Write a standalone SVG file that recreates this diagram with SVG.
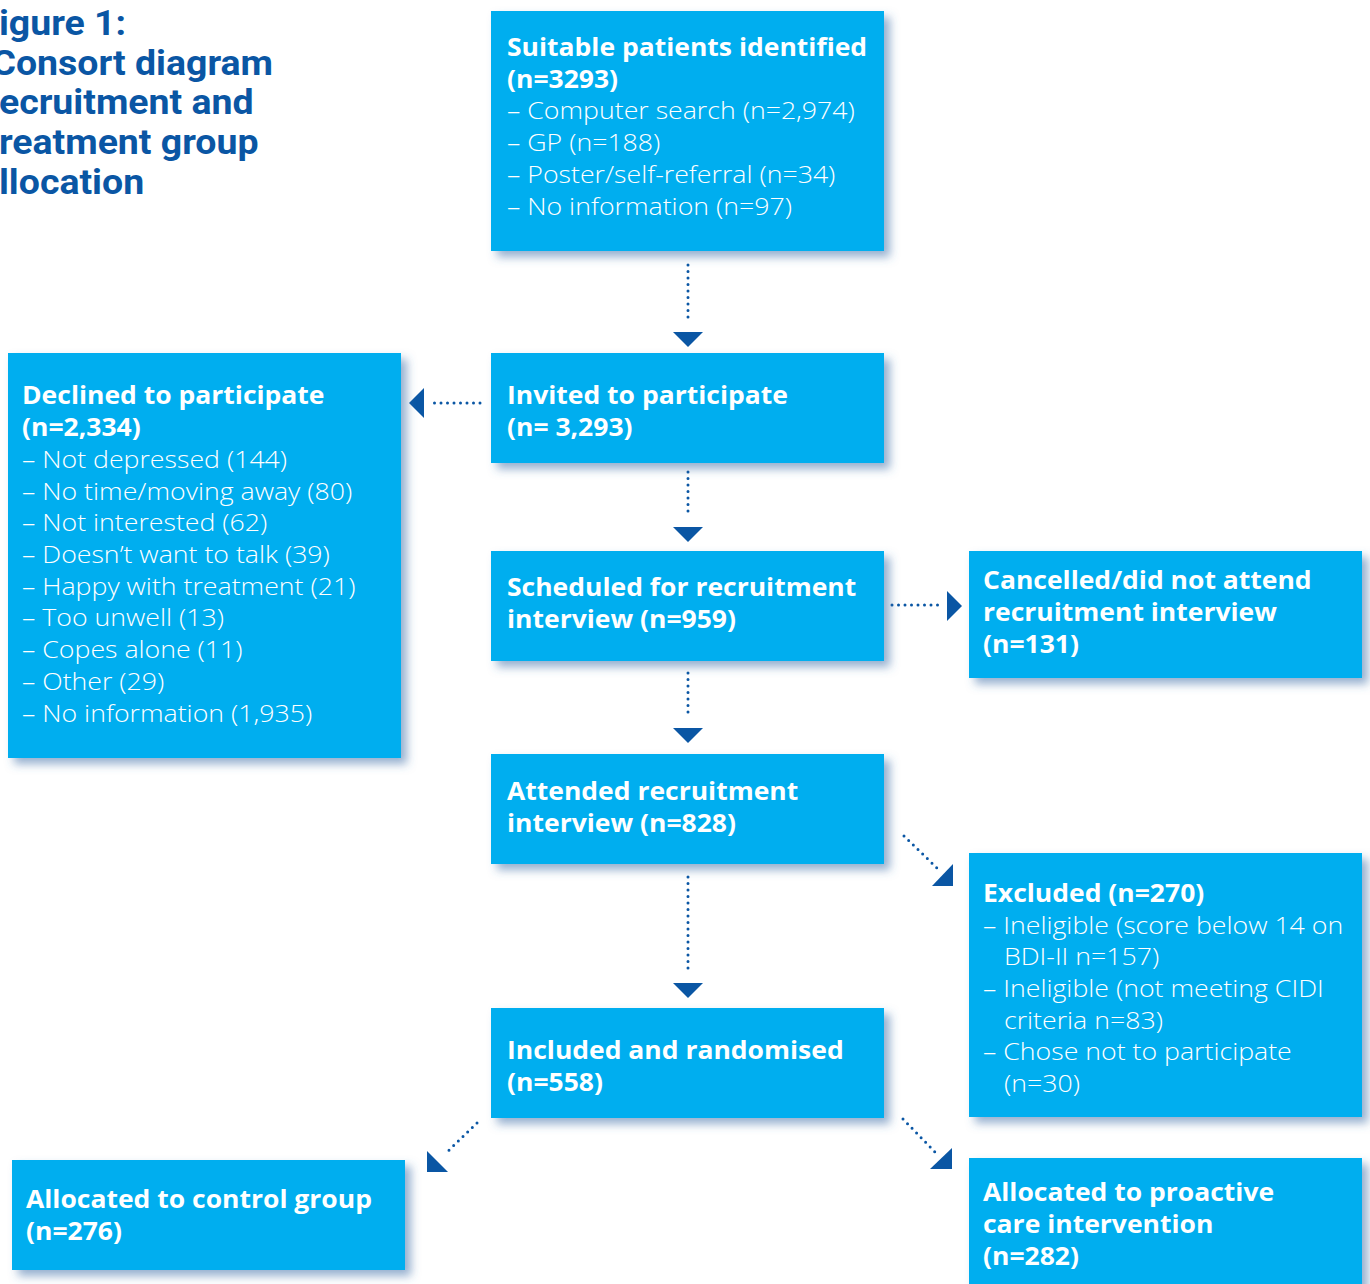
<svg xmlns="http://www.w3.org/2000/svg" width="1370" height="1284" viewBox="0 0 1370 1284">
<defs>
<filter id="sh" x="-10%" y="-10%" width="130%" height="130%">
<feGaussianBlur in="SourceAlpha" stdDeviation="5"/>
<feOffset dx="6" dy="6" result="b"/>
<feFlood flood-color="#3f6fa8" flood-opacity="0.55"/>
<feComposite in2="b" operator="in"/>
<feMerge><feMergeNode/><feMergeNode in="SourceGraphic"/></feMerge>
</filter>
</defs>
<style>
.box{fill:#00aeef;filter:url(#sh)}
.t{font-family:"Open Sans","Noto Sans",sans-serif;fill:#ffffff}
.b{font-weight:700;font-size:25px}
.r{font-weight:300;font-size:24.3px}
.title{font-family:Roboto,"Open Sans",sans-serif;font-weight:700;font-size:35px;fill:#0a56a4}
.dot{fill:none;stroke:#0a56a4;stroke-width:3;stroke-linecap:round;stroke-dasharray:0 6.5}
.head{fill:#0a56a4}
</style>
<rect width="1370" height="1284" fill="#ffffff"/>
<g id="title">
<g transform="scale(1.07,1)">
<text class="title" x="-1" y="35">igure 1:</text>
<text class="title" x="-8" y="75">Consort diagram</text>
<text class="title" x="-1" y="114">ecruitment and</text>
<text class="title" x="-1" y="154">reatment group</text>
<text class="title" x="-1" y="194">llocation</text>
</g>
</g>
<g id="connectors">
<line class="dot" x1="688" y1="265" x2="688" y2="323"/>
<polygon class="head" points="673,332 703,332 688,347"/>
<line class="dot" x1="688" y1="472" x2="688" y2="517"/>
<polygon class="head" points="673,527 703,527 688,542"/>
<line class="dot" x1="688" y1="673" x2="688" y2="718"/>
<polygon class="head" points="673,728 703,728 688,743"/>
<line class="dot" x1="688" y1="877" x2="688" y2="974"/>
<polygon class="head" points="673,983 703,983 688,998"/>
<line class="dot" x1="480" y1="403" x2="432" y2="403"/>
<polygon class="head" points="424,388 424,418 409,403"/>
<line class="dot" x1="892" y1="605" x2="938" y2="605"/>
<polygon class="head" points="947,591 947,621 962,606"/>
<line class="dot" x1="904" y1="836" x2="937" y2="868"/>
<polygon class="head" points="953,864 953,886 932,886"/>
<line class="dot" x1="903" y1="1119" x2="935" y2="1152"/>
<polygon class="head" points="952,1148 952,1169 930,1169"/>
<line class="dot" x1="477" y1="1123" x2="445" y2="1154"/>
<polygon class="head" points="427,1151 427,1172 448,1172"/>
</g>
<g id="suitable">
<rect class="box" x="491" y="11" width="393" height="240"/>
<g transform="translate(507,0) scale(1.06,1)">
<text class="t b" x="0" y="56">Suitable patients identified</text>
<text class="t b" x="0" y="88">(n=3293)</text>
<g transform="scale(1.037,1)">
<text class="t r" x="0" y="119.5">– Computer search (n=2,974)</text>
<text class="t r" x="0" y="151.2">– GP (n=188)</text>
<text class="t r" x="0" y="182.9">– Poster/self-referral (n=34)</text>
<text class="t r" x="0" y="214.6">– No information (n=97)</text>
</g>
</g>
</g>
<g id="invited">
<rect class="box" x="491" y="353" width="393" height="110"/>
<g transform="translate(507,0) scale(1.06,1)">
<text class="t b" x="0" y="404">Invited to participate</text>
<text class="t b" x="0" y="436">(n= 3,293)</text>
</g>
</g>
<g id="declined">
<rect class="box" x="8" y="353" width="393" height="405"/>
<g transform="translate(22,0) scale(1.06,1)">
<text class="t b" x="0" y="404">Declined to participate</text>
<text class="t b" x="0" y="436">(n=2,334)</text>
<g transform="scale(1.037,1)">
<text class="t r" x="0" y="468">– Not depressed (144)</text>
<text class="t r" x="0" y="499.7">– No time/moving away (80)</text>
<text class="t r" x="0" y="531.4">– Not interested (62)</text>
<text class="t r" x="0" y="563.1">– Doesn’t want to talk (39)</text>
<text class="t r" x="0" y="594.8">– Happy with treatment (21)</text>
<text class="t r" x="0" y="626.5">– Too unwell (13)</text>
<text class="t r" x="0" y="658.2">– Copes alone (11)</text>
<text class="t r" x="0" y="689.9">– Other (29)</text>
<text class="t r" x="0" y="721.6">– No information (1,935)</text>
</g>
</g>
</g>
<g id="scheduled">
<rect class="box" x="491" y="551" width="393" height="110"/>
<g transform="translate(507,0) scale(1.06,1)">
<text class="t b" x="0" y="596">Scheduled for recruitment</text>
<text class="t b" x="0" y="628">interview (n=959)</text>
</g>
</g>
<g id="cancelled">
<rect class="box" x="969" y="551" width="393" height="127"/>
<g transform="translate(983,0) scale(1.06,1)">
<text class="t b" x="0" y="589">Cancelled/did not attend</text>
<text class="t b" x="0" y="621">recruitment interview</text>
<text class="t b" x="0" y="653">(n=131)</text>
</g>
</g>
<g id="attended">
<rect class="box" x="491" y="754" width="393" height="110"/>
<g transform="translate(507,0) scale(1.06,1)">
<text class="t b" x="0" y="800">Attended recruitment</text>
<text class="t b" x="0" y="832">interview (n=828)</text>
</g>
</g>
<g id="excluded">
<rect class="box" x="969" y="853" width="393" height="264"/>
<g transform="translate(983,0) scale(1.06,1)">
<text class="t b" x="0" y="902">Excluded (n=270)</text>
<g transform="scale(1.037,1)">
<text class="t r" x="0" y="933.7">– Ineligible (score below 14 on</text>
<text class="t r" x="19.1" y="965.4">BDI-II n=157)</text>
<text class="t r" x="0" y="997.1">– Ineligible (not meeting CIDI</text>
<text class="t r" x="19.1" y="1028.8">criteria n=83)</text>
<text class="t r" x="0" y="1060.5">– Chose not to participate</text>
<text class="t r" x="19.1" y="1092.2">(n=30)</text>
</g>
</g>
</g>
<g id="included">
<rect class="box" x="491" y="1008" width="393" height="110"/>
<g transform="translate(507,0) scale(1.06,1)">
<text class="t b" x="0" y="1059">Included and randomised</text>
<text class="t b" x="0" y="1091">(n=558)</text>
</g>
</g>
<g id="control">
<rect class="box" x="12" y="1160" width="393" height="110"/>
<g transform="translate(26,0) scale(1.06,1)">
<text class="t b" x="0" y="1208">Allocated to control group</text>
<text class="t b" x="0" y="1240">(n=276)</text>
</g>
</g>
<g id="proactive">
<rect class="box" x="969" y="1158" width="393" height="130"/>
<g transform="translate(983,0) scale(1.06,1)">
<text class="t b" x="0" y="1201">Allocated to proactive</text>
<text class="t b" x="0" y="1233">care intervention</text>
<text class="t b" x="0" y="1265">(n=282)</text>
</g>
</g>
</svg>
